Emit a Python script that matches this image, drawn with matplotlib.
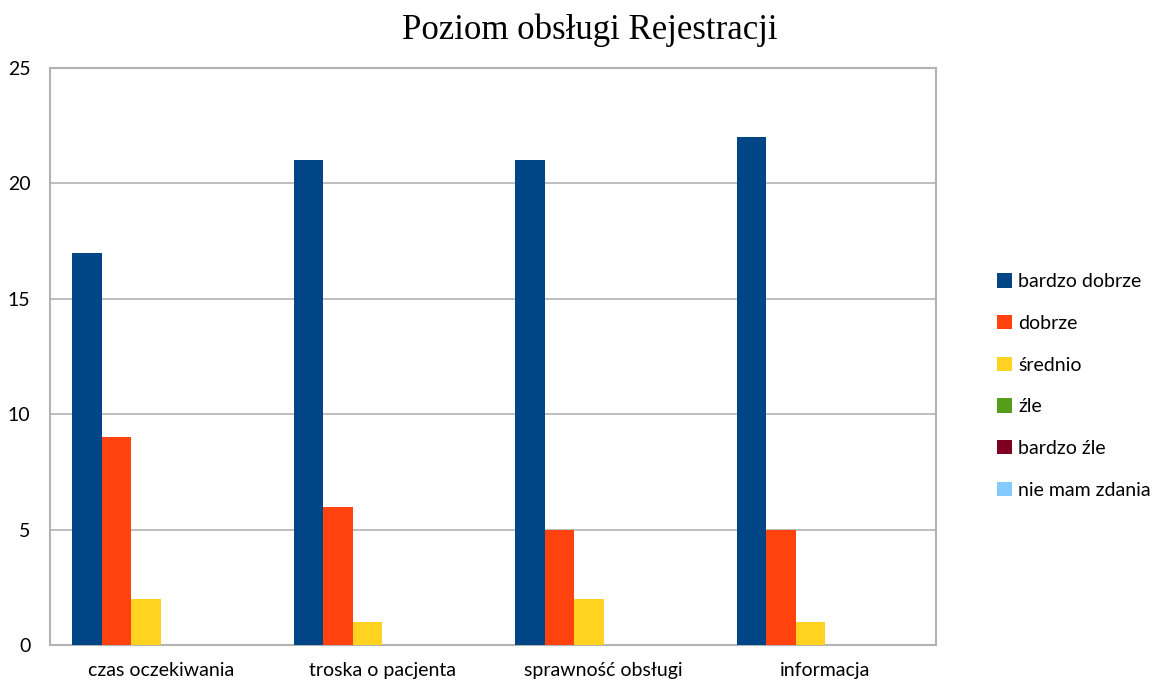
import matplotlib
matplotlib.use("Agg")
import matplotlib.pyplot as plt
import numpy as np
from matplotlib.patches import Patch

categories = ["czas oczekiwania", "troska o pacjenta", "sprawność obsługi", "informacja"]
series_names = ["bardzo dobrze", "dobrze", "średnio", "źle", "bardzo źle", "nie mam zdania"]
bardzo_dobrze = [17, 21, 21, 22]
dobrze = [9, 6, 5, 5]
srednio = [2, 1, 2, 1]
zle = [0, 0, 0, 0]
bardzo_zle = [0, 0, 0, 0]
nie_mam_zdania = [0, 0, 0, 0]
series = [bardzo_dobrze, dobrze, srednio, zle, bardzo_zle, nie_mam_zdania]
colors = ["#004586", "#ff420e", "#ffd320", "#579d1c", "#7e0021", "#83caff"]

plt.rcParams['font.family'] = ['Lato', 'DejaVu Sans']

fig = plt.figure(figsize=(11.56, 6.84), dpi=100)
ax = fig.add_axes([50/1156, 1-645/684, (936-50)/1156, (645-68)/684])

x = np.arange(len(categories))
n = len(series)
total = 0.8
w = total / n
for i, (vals, c) in enumerate(zip(series, colors)):
    ax.bar(x - total/2 + w*(i+0.5), vals, width=w, color=c, zorder=3)

ax.set_xlim(-0.5, len(categories)-0.5)
ax.set_ylim(0, 25)
ax.set_yticks([0, 5, 10, 15, 20, 25])
ax.set_xticks(x)
ax.set_xticklabels(categories)
ax.tick_params(axis='both', length=0, labelsize=14)
ax.tick_params(axis='y', pad=14)
ax.tick_params(axis='x', pad=12)
ax.grid(axis='y', color='#b3b3b3', linewidth=1.2, zorder=0)
for s in ax.spines.values():
    s.set_color('#b3b3b3')
    s.set_linewidth(1.5)

handles = [Patch(facecolor=c, label=l) for c, l in zip(colors, series_names)]
fig.legend(handles=handles, loc='center left', bbox_to_anchor=(997/1156, 1-386/684),
           frameon=False, fontsize=14, handlelength=0.75, handleheight=0.75,
           handletextpad=0.35, labelspacing=1.27, borderpad=0, borderaxespad=0)

fig.text(590/1156, 1-30/684, "Poziom obsługi Rejestracji", ha='center', va='center',
         fontsize=25, family='Liberation Serif')

fig.savefig("out.png", dpi=100)
